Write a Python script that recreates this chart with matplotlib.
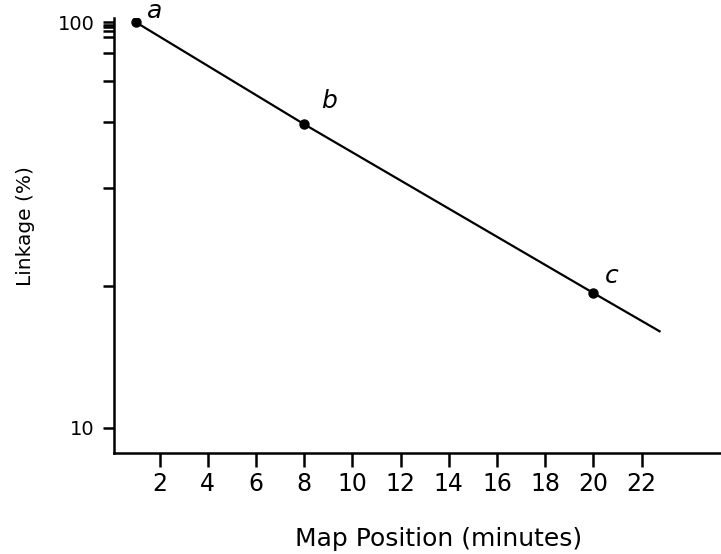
import matplotlib
matplotlib.use("Agg")
import matplotlib.pyplot as plt
from matplotlib.ticker import FixedLocator, NullFormatter

# data
point_x = [1, 8, 20]
point_y = [100, 56, 21.5]
point_names = ["a", "b", "c"]
line_x = [1, 8, 20, 22.75]
line_y = [100, 56, 21.5, 17.3]

x_ticks = [2, 4, 6, 8, 10, 12, 14, 16, 18, 20, 22]
y_major = [10, 100]
# the minor marks on the original are not at 20..90, these are where they sit
y_minor = [22.4, 39.0, 56.6, 71.4, 83.9, 92.1, 95.3, 97.0, 98.5]

plt.rcParams['font.family'] = ['DejaVu Sans']

fig = plt.figure(figsize=(7.21, 5.54), dpi=100)
ax = fig.add_axes([0.158, 0.183, 0.842, 0.785])

ax.plot(line_x, line_y, color='black', lw=1.6, zorder=2)
ax.plot(point_x, point_y, 'o', color='black', ms=6.5, zorder=3)

offsets = [(19, 11), (25, 23), (18, 17)]
for x, y, s, off in zip(point_x, point_y, point_names, offsets):
    ax.annotate(s, (x, y), xytext=off, textcoords='offset pixels',
                ha='center', va='center', fontsize=18, fontstyle='italic')

ax.set_yscale('log')
ax.set_xlim(0.1, 25.3)
ax.set_ylim(8.69, 102.5)

ax.xaxis.set_major_locator(FixedLocator(x_ticks))
ax.set_xticklabels([str(v) for v in x_ticks])
ax.yaxis.set_major_locator(FixedLocator(y_major))
ax.set_yticklabels([str(v) for v in y_major])
ax.yaxis.set_minor_locator(FixedLocator(y_minor))
ax.yaxis.set_minor_formatter(NullFormatter())
ax.xaxis.set_minor_locator(FixedLocator([]))

ax.spines['top'].set_visible(False)
ax.spines['right'].set_visible(False)
for side in ['left', 'bottom']:
    ax.spines[side].set_linewidth(1.8)

ax.tick_params(axis='x', which='major', direction='out', length=10, width=1.8,
               labelsize=17, pad=4)
ax.tick_params(axis='y', which='major', direction='out', length=8, width=1.8,
               labelsize=14, pad=6)
ax.tick_params(axis='y', which='minor', direction='out', length=8, width=1.8)

ax.set_xlabel('Map Position (minutes)', fontsize=18)
ax.set_ylabel('Linkage (%)', fontsize=14.5)
ax.xaxis.set_label_coords(0.535, -0.17)
ax.yaxis.set_label_coords(-0.13, 0.522)

fig.savefig('out.png', dpi=100)
